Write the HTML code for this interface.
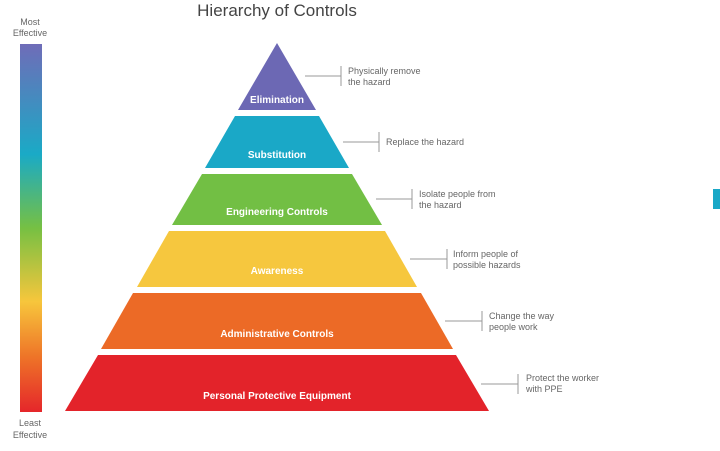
<!DOCTYPE html>
<html><head><meta charset="utf-8"><style>
html,body{margin:0;padding:0;background:#fff;}
svg{display:block;}
.lbl{font-family:"Liberation Sans",sans-serif;font-weight:bold;font-size:10px;fill:#fff;text-anchor:middle;}
.c{font-family:"Liberation Sans",sans-serif;font-size:9px;fill:#666;}
.ln{stroke:#999;stroke-width:1;fill:none;}
</style></head><body>
<svg width="720" height="451" viewBox="0 0 720 451" xmlns="http://www.w3.org/2000/svg">
<defs><linearGradient id="g" x1="0" y1="0" x2="0" y2="1">
<stop offset="0" stop-color="#6f6cb8"/><stop offset="0.3" stop-color="#1aaac6"/><stop offset="0.5" stop-color="#76c043"/><stop offset="0.7" stop-color="#f7c63c"/><stop offset="0.85" stop-color="#ee7428"/><stop offset="1" stop-color="#e5262a"/></linearGradient></defs>
<text x="277" y="16" font-family="Liberation Sans,sans-serif" font-size="17" fill="#444" text-anchor="middle">Hierarchy of Controls</text>
<text x="30" y="25" class="c" text-anchor="middle" fill="#555">Most</text>
<text x="30" y="36" class="c" text-anchor="middle" fill="#555">Effective</text>
<rect x="20" y="44" width="22" height="368" fill="url(#g)"/>
<text x="30" y="426" class="c" text-anchor="middle" fill="#555">Least</text>
<text x="30" y="438" class="c" text-anchor="middle" fill="#555">Effective</text>
<polygon points="277,43 316,110 238,110" fill="#6c68b4"/>
<polygon points="235,116 319,116 349,168 205,168" fill="#1aa8c7"/>
<polygon points="202,174 352,174 382,225 172,225" fill="#72bf44"/>
<polygon points="169,231 385,231 417,287 137,287" fill="#f6c73e"/>
<polygon points="133,293 421,293 453,349 101,349" fill="#ec6a26"/>
<polygon points="98,355 456,355 489,411 65,411" fill="#e3232a"/>
<text x="277" y="103" class="lbl">Elimination</text>
<text x="277" y="158" class="lbl">Substitution</text>
<text x="277" y="215" class="lbl">Engineering Controls</text>
<text x="277" y="274" class="lbl">Awareness</text>
<text x="277" y="337" class="lbl">Administrative Controls</text>
<text x="277" y="399" class="lbl">Personal Protective Equipment</text>
<path class="ln" d="M305 76H341M341 66V86"/>
<text x="348" y="74" class="c">Physically remove</text><text x="348" y="85" class="c">the hazard</text>
<path class="ln" d="M343 142H379M379 132V152"/>
<text x="386" y="145" class="c">Replace the hazard</text>
<path class="ln" d="M376 199H412M412 189V209"/>
<text x="419" y="197" class="c">Isolate people from</text><text x="419" y="208" class="c">the hazard</text>
<path class="ln" d="M410 259H447M447 249V269"/>
<text x="453" y="257" class="c">Inform people of</text><text x="453" y="268" class="c">possible hazards</text>
<path class="ln" d="M445 321H482M482 311V331"/>
<text x="489" y="319" class="c">Change the way</text><text x="489" y="330" class="c">people work</text>
<path class="ln" d="M481 384H518M518 374V394"/>
<text x="526" y="381" class="c">Protect the worker</text><text x="526" y="392" class="c">with PPE</text>
<rect x="713" y="189" width="7" height="20" fill="#1aa8c7"/>
</svg>
</body></html>
